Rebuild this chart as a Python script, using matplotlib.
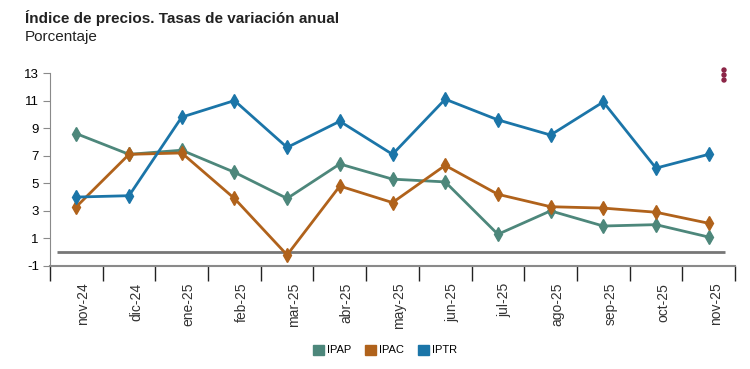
import matplotlib
matplotlib.use("Agg")
import matplotlib.pyplot as plt, numpy as np
from matplotlib.transforms import ScaledTranslation
from matplotlib.patches import Patch, Ellipse

MONTHS = ["nov-24", "dic-24", "ene-25", "feb-25", "mar-25", "abr-25", "may-25",
          "jun-25", "jul-25", "ago-25", "sep-25", "oct-25", "nov-25"]
IPAP = [8.6, 7.1, 7.4, 5.8, 3.9, 6.4, 5.3, 5.1, 1.3, 3.0, 1.9, 2.0, 1.1]
IPAC = [3.3, 7.1, 7.2, 3.9, -0.2, 4.8, 3.6, 6.3, 4.2, 3.3, 3.2, 2.9, 2.1]
IPTR = [4.0, 4.1, 9.8, 11.0, 7.6, 9.5, 7.1, 11.1, 9.6, 8.5, 10.9, 6.1, 7.1]
Y_TICKS = [-1, 1, 3, 5, 7, 9, 11, 13]

C_IPAP = "#4d877b"
C_IPAC = "#b0621b"
C_IPTR = "#1b75a8"
GREY = "#8a8a8a"

plt.rcParams['font.family'] = ['Liberation Sans', 'DejaVu Sans']
plt.rcParams['axes.unicode_minus'] = False

fig = plt.figure(figsize=(7.5, 3.69), dpi=100)
ax = fig.add_axes([50/750, 1-266/369, 685/750, 193/369])

x = np.arange(len(MONTHS))
for vals, col in [(IPAP, C_IPAP), (IPAC, C_IPAC), (IPTR, C_IPTR)]:
   ax.plot(x, vals, color=col, linewidth=2, marker="d", markersize=7.5,
           markeredgecolor=col, zorder=3)

# zero line
ax.hlines(0, -0.37, 12.31, color="#777777", linewidth=2, zorder=2)

ax.set_xlim(-0.5, len(MONTHS)-0.5)
ax.set_ylim(-1, 13)
ax.set_yticks(Y_TICKS)
ax.tick_params(axis="y", length=5, color=GREY, labelsize=9.5, pad=3)

ax.set_xticks(x)
ax.set_xticklabels(MONTHS, rotation=90, fontsize=10, color="#333333")
ax.tick_params(axis="x", length=0, pad=12)
off = ScaledTranslation(7/100, 0, fig.dpi_scale_trans)
for lbl in ax.get_xticklabels():
   lbl.set_transform(lbl.get_transform() + off)
ax.set_xticks(np.arange(-0.5, len(MONTHS)), minor=True)
ax.tick_params(axis="x", which="minor", length=11, color="#222222", width=1)

for s in ["top", "right"]:
   ax.spines[s].set_visible(False)
ax.spines["left"].set_color(GREY)
ax.spines["bottom"].set_color(GREY)
ax.spines["bottom"].set_linewidth(1.5)

fig.text(25/750, 1-18/369, "Índice de precios. Tasas de variación anual",
         fontsize=11, fontweight="bold", va="center", color="#222222")
fig.text(25/750, 1-37/369, "Porcentaje", fontsize=11, va="center", color="#222222")

# menu dots
for dy in [70, 75, 80]:
   fig.patches.append(Ellipse((724/750, 1-dy/369), 4/750, 4/369,
                              transform=fig.transFigure, color="#8b2446"))

handles = [Patch(color=C_IPAP, label="IPAP"), Patch(color=C_IPAC, label="IPAC"),
           Patch(color=C_IPTR, label="IPTR")]
fig.legend(handles=handles, loc="center", bbox_to_anchor=(385/750, 1-350/369),
           ncol=3, frameon=False, fontsize=8, handlelength=1.0, handleheight=1.0,
           handletextpad=0.3, columnspacing=1.2)

fig.savefig("out.png", dpi=100)
